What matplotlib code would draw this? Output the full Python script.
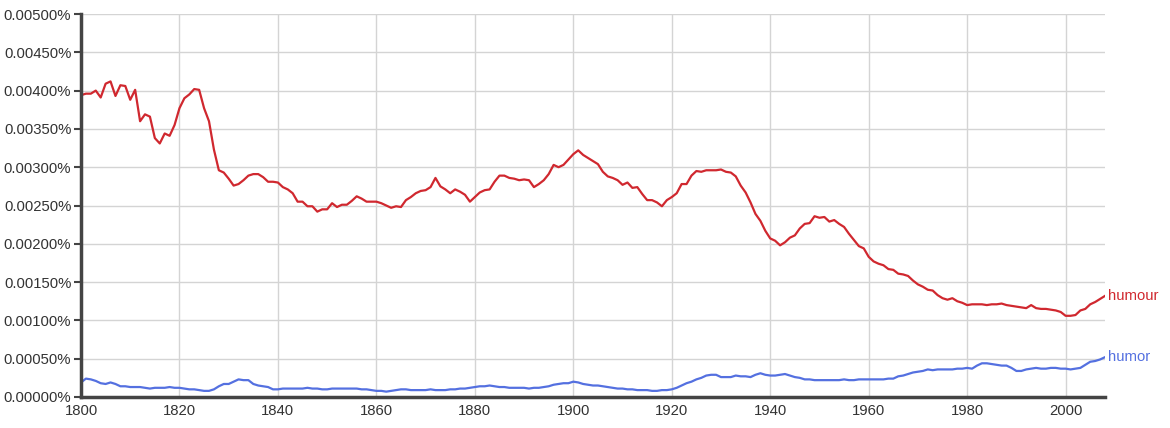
import numpy as np
import matplotlib
matplotlib.use("Agg")
import matplotlib.pyplot as plt
from matplotlib.ticker import FuncFormatter, MultipleLocator

years = np.arange(1800, 2009)

# share of all words, in percent (one value per year)
humour = [
    0.00394, 0.00396, 0.00396, 0.00400, 0.00391, 0.00409, 0.00412, 0.00393, 0.00407, 0.00406,
    0.00388, 0.00401, 0.00360, 0.00369, 0.00366, 0.00338, 0.00331, 0.00344, 0.00341, 0.00355,
    0.00377, 0.00390, 0.00395, 0.00402, 0.00401, 0.00377, 0.00360, 0.00323, 0.00296, 0.00293,
    0.00285, 0.00276, 0.00278, 0.00283, 0.00289, 0.00291, 0.00291, 0.00287, 0.00281, 0.00281,
    0.00280, 0.00274, 0.00271, 0.00266, 0.00255, 0.00255, 0.00249, 0.00249, 0.00242, 0.00245,
    0.00245, 0.00253, 0.00248, 0.00251, 0.00251, 0.00256, 0.00262, 0.00259, 0.00255, 0.00255,
    0.00255, 0.00253, 0.00250, 0.00247, 0.00249, 0.00248, 0.00257, 0.00261, 0.00266, 0.00269,
    0.00270, 0.00274, 0.00286, 0.00275, 0.00271, 0.00266, 0.00271, 0.00268, 0.00264, 0.00255,
    0.00261, 0.00267, 0.00270, 0.00271, 0.00281, 0.00289, 0.00289, 0.00286, 0.00285, 0.00283,
    0.00284, 0.00283, 0.00274, 0.00278, 0.00283, 0.00291, 0.00303, 0.00300, 0.00303, 0.00310,
    0.00317, 0.00322, 0.00316, 0.00312, 0.00308, 0.00304, 0.00294, 0.00288, 0.00286, 0.00283,
    0.00277, 0.00280, 0.00273, 0.00274, 0.00265, 0.00257, 0.00257, 0.00254, 0.00249, 0.00257,
    0.00261, 0.00266, 0.00278, 0.00278, 0.00289, 0.00295, 0.00294, 0.00296, 0.00296, 0.00296,
    0.00297, 0.00294, 0.00293, 0.00288, 0.00276, 0.00267, 0.00254, 0.00239, 0.00230, 0.00217,
    0.00207, 0.00204, 0.00198, 0.00202, 0.00208, 0.00211, 0.00220, 0.00226, 0.00227, 0.00236,
    0.00234, 0.00235, 0.00229, 0.00231, 0.00226, 0.00222, 0.00213, 0.00205, 0.00197, 0.00194,
    0.00183, 0.00177, 0.00174, 0.00172, 0.00167, 0.00166, 0.00161, 0.00160, 0.00158, 0.00152,
    0.00147, 0.00144, 0.00140, 0.00139, 0.00133, 0.00129, 0.00127, 0.00129, 0.00125, 0.00123,
    0.00120, 0.00121, 0.00121, 0.00121, 0.00120, 0.00121, 0.00121, 0.00122, 0.00120, 0.00119,
    0.00118, 0.00117, 0.00116, 0.00120, 0.00116, 0.00115, 0.00115, 0.00114, 0.00113, 0.00111,
    0.00106, 0.00106, 0.00107, 0.00113, 0.00115, 0.00121, 0.00124, 0.00128, 0.00132,
]

humor = [
    0.00019, 0.00024, 0.00023, 0.00021, 0.00018, 0.00017, 0.00019, 0.00017, 0.00014, 0.00014,
    0.00013, 0.00013, 0.00013, 0.00012, 0.00011, 0.00012, 0.00012, 0.00012, 0.00013, 0.00012,
    0.00012, 0.00011, 0.00010, 0.00010, 0.00009, 0.00008, 0.00008, 0.00010, 0.00014, 0.00017,
    0.00017, 0.00020, 0.00023, 0.00022, 0.00022, 0.00017, 0.00015, 0.00014, 0.00013, 0.00010,
    0.00010, 0.00011, 0.00011, 0.00011, 0.00011, 0.00011, 0.00012, 0.00011, 0.00011, 0.00010,
    0.00010, 0.00011, 0.00011, 0.00011, 0.00011, 0.00011, 0.00011, 0.00010, 0.00010, 0.00009,
    0.00008, 0.00008, 0.00007, 0.00008, 0.00009, 0.00010, 0.00010, 0.00009, 0.00009, 0.00009,
    0.00009, 0.00010, 0.00009, 0.00009, 0.00009, 0.00010, 0.00010, 0.00011, 0.00011, 0.00012,
    0.00013, 0.00014, 0.00014, 0.00015, 0.00014, 0.00013, 0.00013, 0.00012, 0.00012, 0.00012,
    0.00012, 0.00011, 0.00012, 0.00012, 0.00013, 0.00014, 0.00016, 0.00017, 0.00018, 0.00018,
    0.00020, 0.00019, 0.00017, 0.00016, 0.00015, 0.00015, 0.00014, 0.00013, 0.00012, 0.00011,
    0.00011, 0.00010, 0.00010, 0.00009, 0.00009, 0.00009, 0.00008, 0.00008, 0.00009, 0.00009,
    0.00010, 0.00012, 0.00015, 0.00018, 0.00020, 0.00023, 0.00025, 0.00028, 0.00029, 0.00029,
    0.00026, 0.00026, 0.00026, 0.00028, 0.00027, 0.00027, 0.00026, 0.00029, 0.00031, 0.00029,
    0.00028, 0.00028, 0.00029, 0.00030, 0.00028, 0.00026, 0.00025, 0.00023, 0.00023, 0.00022,
    0.00022, 0.00022, 0.00022, 0.00022, 0.00022, 0.00023, 0.00022, 0.00022, 0.00023, 0.00023,
    0.00023, 0.00023, 0.00023, 0.00023, 0.00024, 0.00024, 0.00027, 0.00028, 0.00030, 0.00032,
    0.00033, 0.00034, 0.00036, 0.00035, 0.00036, 0.00036, 0.00036, 0.00036, 0.00037, 0.00037,
    0.00038, 0.00037, 0.00041, 0.00044, 0.00044, 0.00043, 0.00042, 0.00041, 0.00041, 0.00038,
    0.00034, 0.00034, 0.00036, 0.00037, 0.00038, 0.00037, 0.00037, 0.00038, 0.00038, 0.00037,
    0.00037, 0.00036, 0.00037, 0.00038, 0.00042, 0.00046, 0.00047, 0.00049, 0.00052,
]

series = {"humour": (humour, "#d0282f"), "humor": (humor, "#5470e0")}

plt.rcParams['font.family'] = ['Liberation Sans', 'DejaVu Sans']

fig = plt.figure(figsize=(11.7, 4.28), dpi=100)
ax = fig.add_axes([81/1170, 1 - 397/428, (1105-81)/1170, (397-14)/428])

for name, (vals, col) in series.items():
    ax.plot(years, vals, color=col, lw=1.6, solid_joinstyle='round')
    ax.text(years[-1] + 0.6, vals[-1], name, color=col, fontsize=10.7,
            va='center', ha='left')

ax.set_xlim(1800, 2008)
ax.set_ylim(0, 0.005)
ax.xaxis.set_major_locator(MultipleLocator(20))
ax.yaxis.set_major_locator(MultipleLocator(0.0005))
ax.yaxis.set_major_formatter(FuncFormatter(lambda v, p: "%.5f%%" % v))

ax.grid(True, color='#d4d4d4', lw=1)
ax.set_axisbelow(True)
for s in ['top', 'right']:
    ax.spines[s].set_visible(False)
for s in ['left', 'bottom']:
    ax.spines[s].set_color('#444444')
    ax.spines[s].set_linewidth(2.5)

ax.tick_params(axis='y', length=5, width=1.5, color='#444444', labelsize=10.7,
               labelcolor='#333333', pad=2)
ax.tick_params(axis='x', length=0, labelsize=10.7, labelcolor='#333333', pad=5)

fig.savefig("out.png", dpi=100)
